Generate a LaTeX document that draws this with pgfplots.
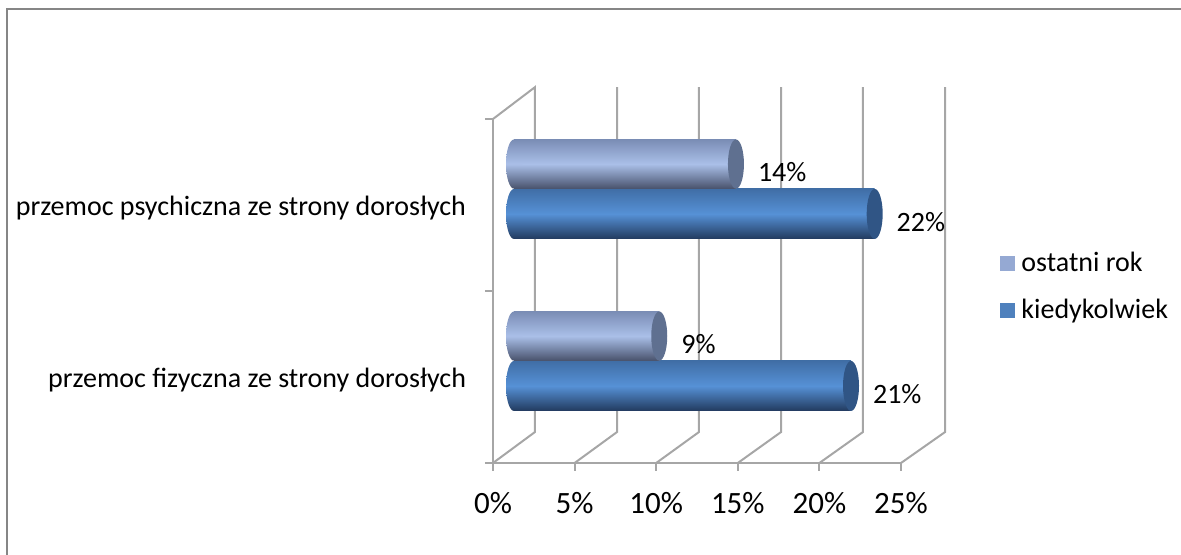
\documentclass[border=0pt]{standalone}
\usepackage{pgfplots}
\pgfplotsset{compat=1.18}
\usepackage{fontspec}
\setmainfont{Carlito}

\definecolor{gridgray}{RGB}{166,166,166}
\definecolor{framegray}{RGB}{134,134,134}
\definecolor{lightmid}{RGB}{170,191,232}
\definecolor{lighttop}{RGB}{122,141,181}
\definecolor{lightbot}{RGB}{72,82,108}
\definecolor{lightcap}{RGB}{95,112,144}
\definecolor{darkmid}{RGB}{86,145,214}
\definecolor{darktop}{RGB}{64,110,166}
\definecolor{darkbot}{RGB}{34,58,94}
\definecolor{darkcap}{RGB}{48,85,133}
\definecolor{swatchlight}{RGB}{149,169,211}
\definecolor{swatchdark}{RGB}{79,129,189}

% ends of the cylinders, 1px = 0.5pt
\pgfdeclareplotmark{lightend}{\fill[lightcap,draw=none] (0,0) ellipse (4pt and 12.3pt);}
\pgfdeclareplotmark{darkend}{\fill[darkcap,draw=none] (0,0) ellipse (4pt and 12.5pt);}
\pgfdeclareplotmark{lightstart}{\shade[draw=none,top color=lighttop,bottom color=lightbot,middle color=lightmid] (0,0) ellipse (4pt and 12.3pt);}
\pgfdeclareplotmark{darkstart}{\shade[draw=none,top color=darktop,bottom color=darkbot,middle color=darkmid] (0,0) ellipse (4pt and 12.5pt);}

\pgfplotsset{
    darkbar/.style={xbar,bar shift=0pt,bar width=25pt,draw=none,
        top color=darktop,bottom color=darkbot,middle color=darkmid,forget plot,
        nodes near coords={\pgfmathprintnumber[fixed,precision=0]{\pgfplotspointmeta}\%},
        point meta=x,
        nodes near coords align={anchor=west},
        every node near coord/.append style={font=\fontsize{14}{16}\selectfont,text=black,xshift=7.5pt,yshift=-4pt}},
    lightbar/.style={darkbar,bar width=24.6pt,
        top color=lighttop,bottom color=lightbot,middle color=lightmid},
}

\begin{document}
\begin{tikzpicture}
\useasboundingbox (-246.5pt,-46pt) rectangle (344pt,231.5pt);
\draw[framegray,line width=1.3pt] (-243pt,-46pt) -- (-243pt,227pt) -- (344pt,227pt);

% floor, walls, ticks and category names
\begin{axis}[
    scale only axis,
    width=204pt, height=172pt,
    clip=false,
    xmin=0, xmax=25,
    ymin=0, ymax=2,
    axis x line*=bottom,
    axis y line*=left,
    axis line style={gridgray,line width=1pt,-},
    xtick={0,5,10,15,20,25},
    xticklabel={\pgfmathprintnumber{\tick}\%},
    ytick={0,1,2},
    yticklabels={},
    extra y ticks={0.5,1.5},
    extra y tick labels={przemoc fizyczna ze strony dorosłych,przemoc psychiczna ze strony dorosłych},
    extra y tick style={major tick length=0pt,
        tick label style={font=\fontsize{14}{16}\selectfont,xshift=-10pt,yshift=-1.5pt}},
    tick align=outside,
    major tick length=4pt,
    tick style={draw=gridgray,line width=1pt},
    xticklabel style={font=\fontsize{15.5}{17}\selectfont,yshift=-7pt},
    /pgf/number format/assume math mode=true,
]
\addplot[gridgray,line width=1pt,forget plot] coordinates {(0,2) (2.57,2.185) (2.57,0.18) (0,0)};
\addplot[gridgray,line width=1pt,forget plot] coordinates {(7.6,2.185) (7.6,0.18) (5,0)};
\addplot[gridgray,line width=1pt,forget plot] coordinates {(12.62,2.185) (12.62,0.18) (10,0)};
\addplot[gridgray,line width=1pt,forget plot] coordinates {(17.65,2.185) (17.65,0.18) (15,0)};
\addplot[gridgray,line width=1pt,forget plot] coordinates {(22.67,2.185) (22.67,0.18) (20,0)};
\addplot[gridgray,line width=1pt,forget plot] coordinates {(27.7,2.185) (27.7,0.18) (25,0)};
\end{axis}

% the cylinders, half the depth behind the front edge
\begin{axis}[
    xshift=10.5pt, yshift=8pt,
    scale only axis,
    width=204pt, height=172pt,
    clip=false,
    axis lines=none,
    xmin=0, xmax=25,
    ymin=0, ymax=2,
    /pgf/number format/assume math mode=true,
    legend style={
        at={(1.0,0.5)}, anchor=west, xshift=36pt, yshift=-6pt,
        draw=none, fill=none,
        font=\fontsize{14}{16}\selectfont,
        row sep=8pt,
        column sep=1.5pt,
    },
    legend cell align=left,
]
\addlegendimage{only marks,mark=square*,mark size=3.5pt,draw=swatchlight,fill=swatchlight}
\addlegendentry{ostatni rok}
\addlegendimage{only marks,mark=square*,mark size=3.5pt,draw=swatchdark,fill=swatchdark}
\addlegendentry{kiedykolwiek}

% kiedykolwiek
\addplot[only marks,mark=darkstart,forget plot] coordinates {(0,0.355) (0,1.355)};
\addplot[darkbar] coordinates {(20.65,0.355)};
\addplot[darkbar] coordinates {(22.1,1.355)};
\addplot[only marks,mark=darkend,forget plot] coordinates {(20.65,0.355) (22.1,1.355)};

% ostatni rok
\addplot[only marks,mark=lightstart,forget plot] coordinates {(0,0.645) (0,1.645)};
\addplot[lightbar] coordinates {(8.9,0.645)};
\addplot[lightbar] coordinates {(13.6,1.645)};
\addplot[only marks,mark=lightend,forget plot] coordinates {(8.9,0.645) (13.6,1.645)};
\end{axis}
\end{tikzpicture}
\end{document}
